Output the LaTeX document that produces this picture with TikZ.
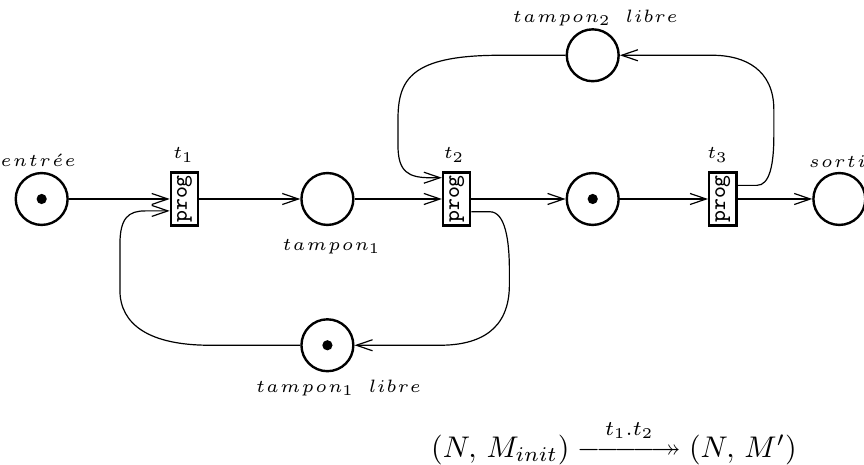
\documentclass[tikz,border=0pt]{standalone}
\usepackage{amsmath, amssymb}
\usepackage{graphicx}
\usetikzlibrary{positioning, arrows.meta, calc}

\begin{document}
\begin{tikzpicture}[>={Straight Barb[length=1.9mm, width=1.3mm]}, thin,
    place/.style={circle, draw, thick, minimum size=0.61cm, inner sep=0pt},
    trans/.style={rectangle, draw, thick, minimum width=0.32cm, minimum height=0.62cm,
      inner sep=0pt, font=\fontsize{7.5}{8}\selectfont\ttfamily},
    jeton/.style={circle, fill, minimum size=0.12cm, inner sep=0pt},
    lbl/.style={font=\fontsize{6}{7}\selectfont, inner sep=0pt}]
    \useasboundingbox (0,0) rectangle (10.16,-5.46);
    % Places
    \node[place] (E) at (0.49, -2.34) {};
    \node[place] (T1) at (3.85, -2.34) {};
    \node[place] (M) at (6.97, -2.34) {};
    \node[place] (S) at (9.87, -2.34) {};
    \node[place] (L2) at (6.97, -0.65) {};
    \node[place] (L1) at (3.85, -4.06) {};

    % Tokens
    \node[jeton] (jE) at (E) {};
    \node[jeton] (jM) at (M) {};
    \node[jeton] (jL1) at (L1) {};

    % Transitions
    \node[trans] (t1) at (2.17, -2.34) {\rotatebox{90}{prog}};
    \node[trans] (t2) at (5.37, -2.34) {\rotatebox{90}{prog}};
    \node[trans] (t3) at (8.50, -2.34) {\rotatebox{90}{prog}};

    % Labels
    \node[lbl] (lE) at (0.45, -1.89) {$e\mkern1.5mu n\mkern1.5mu t\mkern1.5mu r\mkern1.5mu \acute{e}\mkern1.5mu e$};
    \node[lbl] (lS) at (9.92, -1.90) {$s\mkern1.5mu o\mkern1.5mu r\mkern1.5mu t\mkern1.5mu i\mkern1.5mu e$};
    \node[lbl] (lT1) at (3.90, -2.90) {$t\mkern1.5mu a\mkern1.5mu m\mkern1.5mu p\mkern1.5mu o\mkern1.5mu n_1$};
    \node[lbl] (lL2) at (7.00, -0.21) {$t\mkern1.5mu a\mkern1.5mu m\mkern1.5mu p\mkern1.5mu o\mkern1.5mu n_2\ \ l\mkern1mu i\mkern1mu b\mkern1mu r\mkern1mu e$};
    \node[lbl] (lL1) at (3.98, -4.56) {$t\mkern1.5mu a\mkern1.5mu m\mkern1.5mu p\mkern1.5mu o\mkern1.5mu n_1\ \ l\mkern1mu i\mkern1mu b\mkern1mu r\mkern1mu e$};
    \node[lbl] (lt1) at (2.16, -1.82) {$t_1$};
    \node[lbl] (lt2) at (5.34, -1.82) {$t_2$};
    \node[lbl] (lt3) at (8.44, -1.82) {$t_3$};

    % Firing sequence
    \node (eq) at (7.22, -5.20) {$(N,\, M_{init}) \overset{t_1.t_2}{\relbar\joinrel\relbar\joinrel\relbar\joinrel\relbar\joinrel\twoheadrightarrow} (N,\, M')$};

    % Edges
    \draw[->] (E) -- (t1);
    \draw[->] (t1) -- (T1);
    \draw[->] (T1) -- (t2);
    \draw[->] (t2) -- (M);
    \draw[->] (M) -- (t3);
    \draw[->] (t3) -- (S);

    % Loops
    \draw[->] (L2.west) -- (5.88, -0.65) .. controls (4.82, -0.65) and (4.68, -0.94) .. (4.68, -1.41)
      -- (4.68, -1.71) .. controls (4.68, -2.02) and (4.80, -2.09) .. (5.06, -2.09) -- ($(t2.west)+(0, 0.25)$);
    \draw[->] ($(t3.east)+(0, 0.16)$) -- (8.90, -2.18) .. controls (9.05, -2.18) and (9.10, -1.94) .. (9.10, -1.59)
      -- (9.10, -1.29) .. controls (9.10, -0.82) and (8.76, -0.65) .. (8.38, -0.65) -- (L2.east);
    \draw[->] ($(t2.east)+(0, -0.15)$) -- (5.76, -2.49) .. controls (5.94, -2.49) and (5.99, -2.82) .. (5.99, -3.18)
      -- (5.99, -3.35) .. controls (5.99, -3.88) and (5.64, -4.06) .. (5.17, -4.06) -- (L1.east);
    \draw[->] (L1.west) -- (2.47, -4.06) .. controls (1.76, -4.06) and (1.41, -3.82) .. (1.41, -3.41)
      -- (1.41, -2.88) .. controls (1.41, -2.56) and (1.51, -2.48) .. (1.71, -2.48) -- ($(t1.west)+(0, -0.14)$);
\end{tikzpicture}
\end{document}
